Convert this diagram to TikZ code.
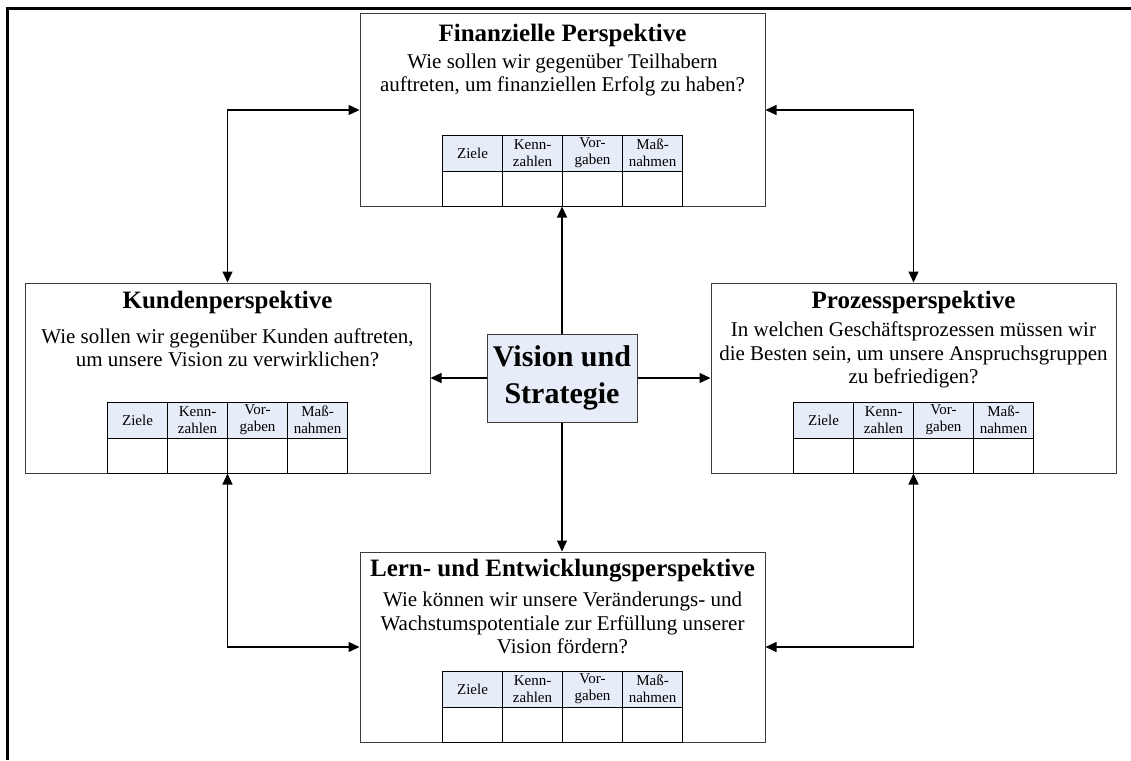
\documentclass[tikz,border=0pt]{standalone}
\usepackage{fontspec}
\setmainfont{Liberation Serif}
\usetikzlibrary{arrows.meta}

\definecolor{headblue}{RGB}{230,236,248}
\definecolor{boxline}{RGB}{60,60,60}

\tikzset{
  persp/.style={draw=boxline, line width=1pt, fill=white, inner sep=0pt,
    minimum width=405pt, minimum height=190pt},
  ptitle/.style={font=\bfseries\fontsize{25}{27}\selectfont, inner sep=0pt},
  question/.style={align=center, font=\fontsize{21}{23.5}\selectfont, inner sep=0pt},
  hcell/.style={draw=black, line width=0.9pt, fill=headblue, minimum width=60pt,
    minimum height=36pt, inner sep=0pt, align=center,
    font=\fontsize{15}{17}\selectfont},
  bcell/.style={draw=black, line width=0.9pt, minimum width=60pt, minimum height=35pt, inner sep=0pt},
  link/.style={line width=1.2pt, -{Triangle[length=11pt,width=10pt]}},
  dlink/.style={line width=1.2pt, {Triangle[length=11pt,width=10pt]}-{Triangle[length=11pt,width=10pt]}},
  kpi/.pic={
    \foreach \t [count=\i from 0] in {Ziele,{Kenn-\\zahlen},{Vor-\\gaben},{Maß-\\nahmen}} {
      \node[hcell] (-h\i) at (30+60*\i,18) {\t};
      \node[bcell] (-b\i) at (30+60*\i,53.5) {};
    }
  }
}

\begin{document}
\begin{tikzpicture}[x=1pt, y=-1pt]
  \useasboundingbox (0,0) rectangle (1131,760);

  % outer frame (top and left edges)
  \draw[line width=3pt] (7,760) -- (7,9) -- (1131,9);

  % perspective boxes
  \node[persp, minimum height=192pt] (fin) at (562.5,110) {};
  \node[persp] (kun) at (227.5,378) {};
  \node[persp] (pro) at (913.5,378) {};
  \node[persp] (lern) at (562.5,647) {};

  % central box
  \node[draw=boxline, line width=1pt, fill=headblue, minimum width=150pt, minimum height=88pt,
        align=center, inner sep=0pt, font=\bfseries\fontsize{30}{37}\selectfont]
        (vis) at (562,378) {Vision und\\Strategie};

  % titles and questions
  \node[ptitle] (finT) at (562.5,35) {Finanzielle Perspektive};
  \node[question] (finQ) at (562.5,75) {Wie sollen wir gegenüber Teilhabern\\auftreten, um finanziellen Erfolg zu haben?};

  \node[ptitle] (kunT) at (227.5,302) {Kundenperspektive};
  \node[question] (kunQ) at (227.5,348) {Wie sollen wir gegenüber Kunden auftreten,\\um unsere Vision zu verwirklichen?};

  \node[ptitle] (proT) at (913.5,302) {Prozessperspektive};
  \node[question] (proQ) at (913.5,355) {In welchen Geschäftsprozessen müssen wir\\die Besten sein, um unsere Anspruchsgruppen\\zu befriedigen?};

  \node[ptitle] (lernT) at (562.5,571) {Lern- und Entwicklungsperspektive};
  \node[question] (lernQ) at (562.5,623) {Wie können wir unsere Veränderungs- und\\Wachstumspotentiale zur Erfüllung unserer\\Vision fördern?};

  % KPI tables
  \pic (finK) at (442.5,135) {kpi};
  \pic (kunK) at (107.5,402) {kpi};
  \pic (proK) at (793.5,402) {kpi};
  \pic (lernK) at (442.5,671) {kpi};

  % links from the vision to the perspectives
  \draw[link] (vis.north) -- (vis.north |- fin.south);
  \draw[link] (vis.west) -- (kun.east);
  \draw[link] (vis.east) -- (pro.west);
  \draw[link] (vis.south) -- (vis.south |- lern.north);

  % links between neighbouring perspectives
  \draw[dlink] (fin.west) -| (kun.north);
  \draw[dlink] (fin.east) -| (pro.north);
  \draw[dlink] (kun.south) |- (lern.west);
  \draw[dlink] (pro.south) |- (lern.east);
\end{tikzpicture}
\end{document}
